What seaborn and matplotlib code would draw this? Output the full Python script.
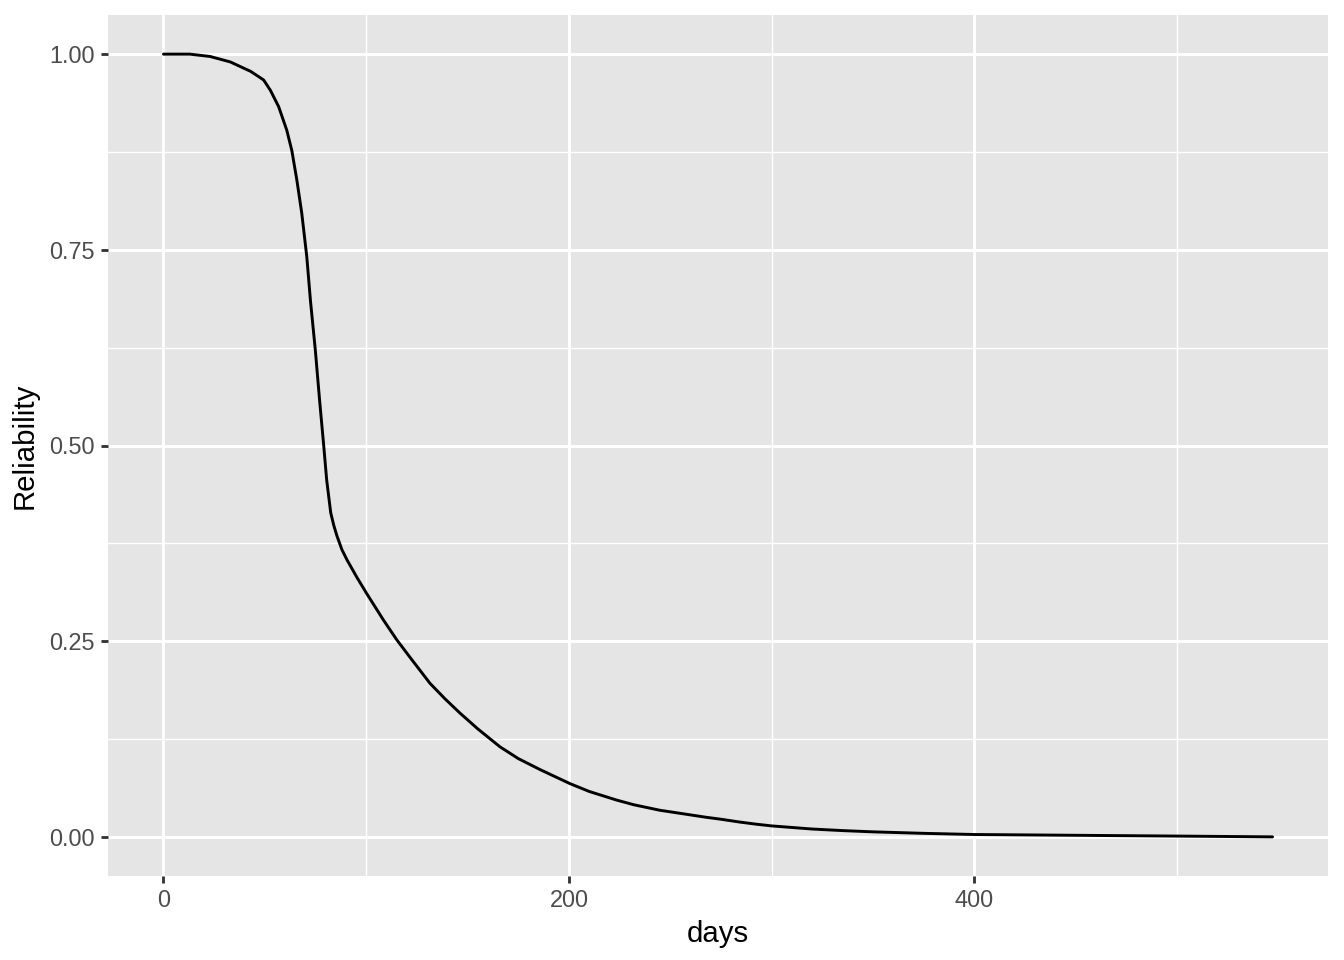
import numpy as np
import pandas as pd
import matplotlib
matplotlib.use("Agg")
import matplotlib.pyplot as plt
from matplotlib.ticker import MultipleLocator
import seaborn as sns

# reliability curve
days = [0, 10, 13, 23, 33, 43, 49.4, 52.7, 56.8, 60.8, 63.3, 65.8, 68.2, 70.7,
        72.5, 74.9, 77, 79, 80.5, 82.5, 84, 85.5, 88, 90.5, 95.3, 100.2, 108.5,
        115, 122, 131.5, 139, 146.3, 155, 166, 175, 185.7, 200.5, 210, 223.5,
        232, 244.8, 255, 267.7, 275, 284, 292, 300, 310, 320, 335, 350, 375,
        400, 450, 500, 547]
reliability = [1.0, 1.0, 1.0, 0.997, 0.990, 0.978, 0.967, 0.954, 0.933, 0.903,
               0.877, 0.839, 0.797, 0.741, 0.685, 0.622, 0.558, 0.501, 0.456,
               0.414, 0.398, 0.385, 0.367, 0.354, 0.332, 0.311, 0.277, 0.252,
               0.228, 0.196, 0.176, 0.158, 0.138, 0.115, 0.100, 0.086, 0.068,
               0.058, 0.047, 0.041, 0.034, 0.030, 0.025, 0.0225, 0.0190, 0.0163,
               0.014, 0.012, 0.010, 0.008, 0.0064, 0.0045, 0.003, 0.002, 0.001,
               0.0]

df = pd.DataFrame({"days": days, "Reliability": reliability})

sns.set_theme(style="darkgrid", rc={
    "axes.facecolor": "#E5E5E5",
    "grid.color": "white",
    "axes.edgecolor": "none",
    "xtick.color": "#333333",
    "ytick.color": "#333333",
    "xtick.labelcolor": "#4D4D4D",
    "ytick.labelcolor": "#4D4D4D",
})
plt.rcParams["font.family"] = ["Liberation Sans", "DejaVu Sans"]

fig = plt.figure(figsize=(7, 5), dpi=192)
ax = fig.add_axes([108 / 1344, 1 - 876 / 960, (1328 - 108) / 1344, (876 - 15) / 960])

sns.lineplot(data=df, x="days", y="Reliability", color="black", linewidth=1.1, ax=ax)

ax.set_xlim(-0.05 * 547, 547 * 1.05)
ax.set_ylim(-0.05, 1.05)
ax.xaxis.set_major_locator(MultipleLocator(200))
ax.xaxis.set_minor_locator(MultipleLocator(100))
ax.yaxis.set_major_locator(MultipleLocator(0.25))
ax.yaxis.set_minor_locator(MultipleLocator(0.125))
ax.set_yticklabels([f"{v:.2f}" for v in ax.get_yticks()])
ax.grid(which="major", color="white", linewidth=1.07)
ax.grid(which="minor", color="white", linewidth=0.53)
ax.tick_params(which="major", length=2.75, width=1.07, labelsize=8.8, pad=2.2,
               bottom=True, left=True)
ax.tick_params(which="minor", length=0, bottom=False, left=False)
ax.set_xlabel("days", fontsize=11, color="black", labelpad=3)
ax.set_ylabel("Reliability", fontsize=11, color="black", labelpad=4)
for s in ax.spines.values():
    s.set_visible(False)

fig.savefig("out.png", dpi=192)
